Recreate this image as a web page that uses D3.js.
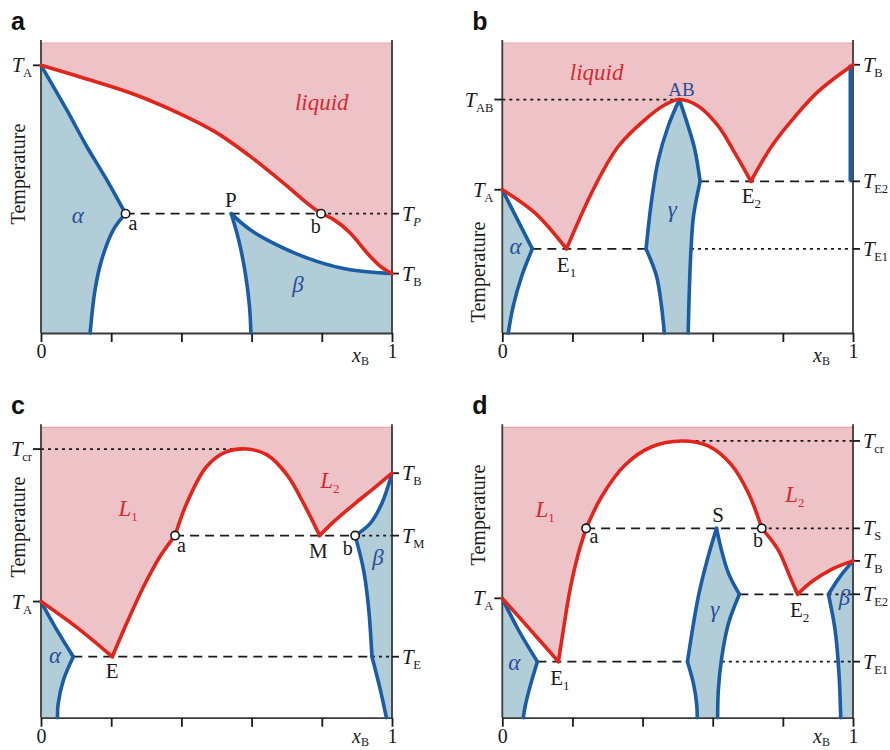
<!DOCTYPE html>
<html><head><meta charset="utf-8">
<script src="https://cdn.jsdelivr.net/npm/d3@7"></script>
<style>body{margin:0;background:#fff}svg{display:block}</style>
</head><body><script>
// ---------------- DATA (x = mole fraction of B, T = relative temperature 0..1) ----------------
const xTicks = [0, 0.2, 0.4, 0.6, 0.8, 1];
const panelLetters = ["a", "b", "c", "d"];

// Panel a : peritectic
const aLevelsLeft  = [["A", 0.923]];
const aLevelsRight = [["P", 0.4115], ["B", 0.205]];
const aLiqUpper  = [[0,0.923],[0.121,0.879],[0.263,0.824],[0.401,0.753],[0.501,0.69],[0.596,0.609],[0.691,0.517],[0.758,0.448],[0.798,0.4115]];
const aLiqLower  = [[0.798,0.4115],[0.834,0.391],[0.881,0.345],[0.929,0.276],[0.967,0.23],[1,0.205]];
const aAlphaUpper = [[0,0.923],[0.073,0.77],[0.13,0.644],[0.187,0.529],[0.241,0.4115]];
const aAlphaLower = [[0.241,0.4115],[0.206,0.356],[0.173,0.253],[0.154,0.149],[0.14,0]];
const aBetaLeft  = [[0.542,0.4115],[0.563,0.322],[0.582,0.207],[0.594,0.092],[0.598,0]];
const aBetaUpper = [[0.542,0.4115],[0.596,0.356],[0.691,0.293],[0.786,0.247],[0.881,0.218],[1,0.205]];

// Panel b : congruent compound AB with two eutectics
const bLevelsLeft  = [["AB", 0.805], ["A", 0.494]];
const bLevelsRight = [["B", 0.925], ["E2", 0.523], ["E1", 0.29]];
const bLiq1 = [[0,0.494],[0.093,0.414],[0.183,0.29]];
const bLiq2 = [[0.183,0.29],[0.264,0.506],[0.331,0.644],[0.407,0.736],[0.464,0.787],[0.505,0.805],[0.559,0.782],[0.616,0.713],[0.663,0.621],[0.709,0.523]];
const bLiq3 = [[0.709,0.523],[0.768,0.644],[0.835,0.747],[0.901,0.833],[1,0.925]];
const bAlphaUpper = [[0,0.494],[0.0856,0.29]];
const bAlphaLower = [[0.0856,0.29],[0.055,0.195],[0.031,0.092],[0.017,0]];
const bGammaLeftUpper  = [[0.505,0.805],[0.473,0.713],[0.445,0.598],[0.426,0.46],[0.41,0.29]];
const bGammaLeftLower  = [[0.41,0.29],[0.44,0.195],[0.454,0.092],[0.462,0]];
const bGammaRightUpper = [[0.505,0.805],[0.53,0.713],[0.549,0.632],[0.564,0.523]];
const bGammaRightLower = [[0.564,0.523],[0.545,0.402],[0.538,0.287],[0.533,0.138],[0.53,0]];
const bPureB = [[1,0.925],[1,0.523]];

// Panel c : monotectic + eutectic
const cLevelsLeft  = [["cr", 0.925], ["A", 0.40]];
const cLevelsRight = [["B", 0.842], ["M", 0.627], ["E", 0.21]];
const cLiq1 = [[0,0.40],[0.102,0.311],[0.203,0.21]];
const cLiq2 = [[0.203,0.21],[0.244,0.325],[0.292,0.451],[0.339,0.555],[0.382,0.627]];
const cLiq3 = [[0.382,0.627],[0.415,0.738],[0.472,0.865],[0.529,0.916],[0.587,0.925],[0.644,0.905],[0.701,0.836],[0.748,0.738],[0.794,0.627]];
const cLiq4 = [[0.794,0.627],[0.834,0.675],[0.895,0.738],[0.948,0.79],[1,0.842]];
const cAlphaUpper = [[0,0.40],[0.04,0.313],[0.092,0.21]];
const cAlphaLower = [[0.092,0.21],[0.064,0.13],[0.049,0.049],[0.047,0]];
const cBetaUpper  = [[0.895,0.627],[0.938,0.669],[0.971,0.738],[1,0.842]];
const cBetaLow1   = [[0.895,0.627],[0.919,0.509],[0.933,0.382],[0.943,0.21]];
const cBetaLow2   = [[0.943,0.21],[0.967,0.095],[0.984,0]];

// Panel d : syntectic
const dLevelsLeft  = [["A", 0.411]];
const dLevelsRight = [["cr", 0.953], ["S", 0.652], ["B", 0.54], ["E2", 0.425], ["E1", 0.193]];
const dLiq1 = [[0,0.411],[0.074,0.311],[0.16,0.193]];
const dLiq2 = [[0.16,0.193],[0.174,0.302],[0.193,0.44],[0.217,0.566],[0.239,0.652]];
const dLiq3 = [[0.239,0.652],[0.283,0.761],[0.35,0.87],[0.426,0.933],[0.511,0.953],[0.587,0.936],[0.654,0.87],[0.702,0.773],[0.74,0.652]];
const dLiq4 = [[0.74,0.652],[0.787,0.577],[0.82,0.486],[0.842,0.425]];
const dLiq5 = [[0.842,0.425],[0.882,0.468],[0.939,0.511],[1,0.54]];
const dAlphaUpper = [[0,0.411],[0.046,0.302],[0.1,0.193]];
const dAlphaLower = [[0.1,0.193],[0.079,0.107],[0.065,0.038],[0.06,0]];
const dGammaLeftUpper  = [[0.611,0.652],[0.587,0.555],[0.559,0.417],[0.528,0.193]];
const dGammaLeftLower  = [[0.528,0.193],[0.545,0.118],[0.554,0.049],[0.556,0]];
const dGammaRightUpper = [[0.611,0.652],[0.625,0.577],[0.645,0.497],[0.676,0.425]];
const dGammaRightLower = [[0.676,0.425],[0.645,0.325],[0.626,0.21],[0.616,0.095],[0.614,0]];
const dBetaUpper = [[1,0.54],[0.963,0.486],[0.93,0.425]];
const dBetaLower = [[0.93,0.425],[0.949,0.302],[0.96,0.153],[0.965,0]];

// ---------------- STYLE ----------------
const SERIF = "'Liberation Serif', Tinos, 'Times New Roman', Times, 'DejaVu Serif', serif";
const SANS = "'Liberation Sans', Arimo, Arial, Helvetica, sans-serif";
const RED = "#E1251B", BLUE = "#1A5CA6", PINK = "#EEC3C8", PINKEDGE = "#E9A3AB", LBLUE = "#B1CDD8", INK = "#1a1a1a", AXIS = "#3a3a3a", TXTBLUE = "#2A4D9C", TXTRED = "#D8282F";

const svg = d3.select("body").append("svg").attr("width", 890).attr("height", 750)
  .attr("font-family", SERIF);

function makePanel(x0, x1, yTop, yBot) {
  const x = d3.scaleLinear().domain([0, 1]).range([x0, x1]);
  const y = d3.scaleLinear().domain([0, 1]).range([yBot, yTop]);
  const line = d3.line().x(d => x(d[0])).y(d => y(d[1])).curve(d3.curveCatmullRom.alpha(0.5));
  const g = svg.append("g");
  const layers = {
    fill: g.append("g"), guide: g.append("g"), axis: g.append("g"),
    curve: g.append("g"), mark: g.append("g"), text: g.append("g")
  };
  return { x, y, line, g, layers, x0, x1, yTop, yBot };
}
const rev = a => a.slice().reverse();

function area(P, parts, color) {
  let d = "";
  parts.forEach((p, i) => {
    let s = p.length >= 3 ? P.line(p) : "M" + p.map(q => P.x(q[0]) + "," + P.y(q[1])).join("L");
    if (i > 0) s = "L" + s.slice(1);
    d += s;
  });
  P.layers.fill.append("path").attr("d", d + "Z").attr("fill", color).attr("stroke", "none");
}
function curve(P, pts, color) {
  P.layers.curve.append("path").attr("d", P.line(pts)).attr("fill", "none")
    .attr("stroke", color).attr("stroke-width", 3.6).attr("stroke-linecap", "round").attr("stroke-linejoin", "round");
}
function hline(P, xa, xb, T, style) {
  P.layers.guide.append("line").attr("x1", P.x(xa)).attr("x2", P.x(xb)).attr("y1", P.y(T)).attr("y2", P.y(T))
    .attr("stroke", INK).attr("stroke-width", 1.8).attr("stroke-dasharray", style === "dash" ? "9,6" : "3,4");
}
function tLabel(P, side, sub, T, subItalic) {
  const yy = P.y(T);
  const xt = side === "left" ? P.x0 : P.x1;
  P.layers.axis.append("line").attr("x1", side === "left" ? xt - 8 : xt).attr("x2", side === "left" ? xt : xt + 7)
    .attr("y1", yy).attr("y2", yy).attr("stroke", INK).attr("stroke-width", 1.8);
  const t = P.layers.text.append("text").attr("x", side === "left" ? xt - 9 : xt + 10).attr("y", yy + 7)
    .attr("font-family", SERIF)
    .attr("text-anchor", side === "left" ? "end" : "start").attr("font-size", 21).attr("fill", INK);
  t.append("tspan").attr("font-style", "italic").text("T");
  t.append("tspan").attr("font-size", 12.5).attr("dx", -0.5).attr("dy", 5).attr("font-style", subItalic ? "italic" : "normal").text(sub);
}
function label(P, str, xd, Td, opt) {
  opt = opt || {};
  const t = P.layers.text.append("text").attr("x", P.x(xd)).attr("y", P.y(Td)).attr("text-anchor", "middle")
    .attr("font-family", SERIF)
    .attr("font-size", opt.size || 21).attr("fill", opt.color || INK).attr("font-style", opt.italic ? "italic" : "normal");
  t.append("tspan").text(str);
  if (opt.sub) t.append("tspan").attr("font-size", 13).attr("dy", 5).attr("font-style", "normal").text(opt.sub);
}
function dot(P, xd, Td) {
  P.layers.mark.append("circle").attr("cx", P.x(xd)).attr("cy", P.y(Td)).attr("r", 4.2)
    .attr("fill", "#fff").attr("stroke", INK).attr("stroke-width", 1.6);
}
function frame(P, letter, tempX, tempY) {
  P.layers.axis.append("line").attr("x1", P.x(0)).attr("x2", P.x(1)).attr("y1", P.y(1)).attr("y2", P.y(1))
    .attr("stroke", PINKEDGE).attr("stroke-width", 1.2);
  const ax = d3.axisBottom(P.x).tickValues(xTicks).tickSize(9).tickSizeOuter(0).tickPadding(2)
    .tickFormat(d => (d === 0 || d === 1) ? d3.format("d")(d) : "");
  const ga = P.layers.axis.append("g").attr("transform", `translate(0,${P.yBot})`).call(ax);
  ga.attr("font-family", SERIF);
  ga.select(".domain").attr("stroke", AXIS).attr("stroke-width", 1.8);
  ga.selectAll(".tick line").attr("stroke", INK).attr("stroke-width", 1.8);
  ga.selectAll(".tick text").attr("font-family", SERIF).attr("font-size", 20).attr("fill", INK);
  [0, 1].forEach(v => P.layers.axis.append("line").attr("x1", P.x(v)).attr("x2", P.x(v))
    .attr("y1", P.yTop - 3).attr("y2", P.yBot).attr("stroke", AXIS).attr("stroke-width", 1.8));
  const xb = P.layers.text.append("text").attr("x", P.x1 - 40).attr("y", Math.min(P.yBot + 29, 743))
    .attr("font-family", SERIF).attr("font-size", 20).attr("fill", INK);
  xb.append("tspan").attr("font-style", "italic").text("x");
  xb.append("tspan").attr("font-size", 12).attr("dy", 3).text("B");
  P.layers.text.append("text").attr("transform", `translate(${tempX},${tempY}) rotate(-90)`)
    .attr("font-family", SERIF)
    .attr("text-anchor", "middle").attr("font-size", 20).attr("fill", INK).text("Temperature");
  P.layers.text.append("text").attr("x", P.x0 - 30).attr("y", P.yTop - 13).attr("font-family", SANS)
    .attr("font-weight", "bold").attr("font-size", 25).attr("fill", "#111").text(letter);
}

// ---------------- PANEL a ----------------
{
  const P = makePanel(41, 392, 43, 333);
  const TA = aLevelsLeft[0][1], TP = aLevelsRight[0][1];
  area(P, [aLiqUpper, aLiqLower, [[1, 1], [0, 1]]], PINK);
  area(P, [[[0, 0], [0, TA]], aAlphaUpper, aAlphaLower], LBLUE);
  area(P, [aBetaUpper, [[1, 0]], rev(aBetaLeft)], LBLUE);
  hline(P, 0.241, 0.798, TP, "dash");
  hline(P, 0.798, 1, TP, "dot");
  [aAlphaUpper, aAlphaLower, aBetaLeft, aBetaUpper].forEach(c => curve(P, c, BLUE));
  [aLiqUpper, aLiqLower].forEach(c => curve(P, c, RED));
  dot(P, 0.241, TP); dot(P, 0.798, TP);
  frame(P, panelLetters[0], 25, 174);
  aLevelsLeft.forEach(l => tLabel(P, "left", l[0], l[1]));
  aLevelsRight.forEach(l => tLabel(P, "right", l[0], l[1], l[0] === "P"));
  label(P, "α", 0.105, 0.379, { color: TXTBLUE, italic: true, size: 23 });
  label(P, "β", 0.732, 0.141, { color: TXTBLUE, italic: true, size: 23 });
  label(P, "liquid", 0.80, 0.769, { color: TXTRED, italic: true, size: 23 });
  label(P, "P", 0.541, 0.434, { size: 21 });
  label(P, "a", 0.262, 0.355, { size: 20 });
  label(P, "b", 0.783, 0.345, { size: 20 });
}

// ---------------- PANEL b ----------------
{
  const P = makePanel(502.3, 853, 43, 333);
  const TAB = bLevelsLeft[0][1], TA = bLevelsLeft[1][1], TE2 = bLevelsRight[1][1], TE1 = bLevelsRight[2][1];
  area(P, [bLiq1, bLiq2, bLiq3, [[1, 1], [0, 1]]], PINK);
  area(P, [[[0, 0], [0, TA]], bAlphaUpper, bAlphaLower], LBLUE);
  area(P, [rev(bGammaLeftLower), rev(bGammaLeftUpper), bGammaRightUpper, bGammaRightLower], LBLUE);
  hline(P, 0, 0.505, TAB, "dot");
  hline(P, 0.564, 1, TE2, "dash");
  hline(P, 0.0856, 0.41, TE1, "dash");
  hline(P, 0.538, 1, TE1, "dot");
  [bAlphaUpper, bAlphaLower, bGammaLeftUpper, bGammaLeftLower, bGammaRightUpper, bGammaRightLower].forEach(c => curve(P, c, BLUE));
  P.layers.curve.append("line").attr("x1", P.x(bPureB[0][0]) - 2.5).attr("x2", P.x(bPureB[1][0]) - 2.5)
    .attr("y1", P.y(bPureB[0][1])).attr("y2", P.y(bPureB[1][1])).attr("stroke", BLUE).attr("stroke-width", 4);
  [bLiq1, bLiq2, bLiq3].forEach(c => curve(P, c, RED));
  frame(P, panelLetters[1], 485, 272);
  bLevelsLeft.forEach(l => tLabel(P, "left", l[0], l[1]));
  bLevelsRight.forEach(l => tLabel(P, "right", l[0], l[1]));
  label(P, "liquid", 0.269, 0.872, { color: TXTRED, italic: true, size: 23 });
  label(P, "AB", 0.511, 0.817, { color: TXTBLUE, size: 19 });
  label(P, "γ", 0.485, 0.401, { color: TXTBLUE, italic: true, size: 23 });
  label(P, "α", 0.038, 0.272, { color: TXTBLUE, italic: true, size: 23 });
  label(P, "E", 0.183, 0.21, { sub: "1" });
  label(P, "E", 0.71, 0.448, { sub: "2" });
}

// ---------------- PANEL c ----------------
{
  const P = makePanel(41, 392, 427.3, 717.7);
  const Tcr = cLevelsLeft[0][1], TA = cLevelsLeft[1][1], TM = cLevelsRight[1][1], TE = cLevelsRight[2][1];
  area(P, [cLiq1, cLiq2, cLiq3, cLiq4, [[1, 1], [0, 1]]], PINK);
  area(P, [[[0, 0], [0, TA]], cAlphaUpper, cAlphaLower], LBLUE);
  area(P, [cBetaUpper, [[1, 0]], rev(cBetaLow2), rev(cBetaLow1)], LBLUE);
  hline(P, 0, 0.587, Tcr, "dot");
  hline(P, 0.382, 0.895, TM, "dash");
  hline(P, 0.895, 1, TM, "dot");
  hline(P, 0.092, 0.943, TE, "dash");
  hline(P, 0.943, 1, TE, "dot");
  [cAlphaUpper, cAlphaLower, cBetaUpper, cBetaLow1, cBetaLow2].forEach(c => curve(P, c, BLUE));
  [cLiq1, cLiq2, cLiq3, cLiq4].forEach(c => curve(P, c, RED));
  dot(P, 0.382, TM); dot(P, 0.895, TM);
  frame(P, panelLetters[2], 25, 527);
  cLevelsLeft.forEach(l => tLabel(P, "left", l[0], l[1]));
  cLevelsRight.forEach(l => tLabel(P, "right", l[0], l[1]));
  label(P, "L", 0.248, 0.693, { color: TXTRED, italic: true, size: 23, sub: "1" });
  label(P, "L", 0.823, 0.792, { color: TXTRED, italic: true, size: 23, sub: "2" });
  label(P, "α", 0.04, 0.189, { color: TXTBLUE, italic: true, size: 23 });
  label(P, "β", 0.96, 0.526, { color: TXTBLUE, italic: true, size: 23 });
  label(P, "E", 0.203, 0.137);
  label(P, "a", 0.40, 0.571, { size: 20 });
  label(P, "M", 0.79, 0.55);
  label(P, "b", 0.874, 0.56, { size: 20 });
}

// ---------------- PANEL d ----------------
{
  const P = makePanel(502.3, 853, 427.3, 717.7);
  const TA = dLevelsLeft[0][1], Tcr = dLevelsRight[0][1], TS = dLevelsRight[1][1], TE2 = dLevelsRight[3][1], TE1 = dLevelsRight[4][1];
  area(P, [dLiq1, dLiq2, dLiq3, dLiq4, dLiq5, [[1, 1], [0, 1]]], PINK);
  area(P, [[[0, 0], [0, TA]], dAlphaUpper, dAlphaLower], LBLUE);
  area(P, [rev(dGammaLeftLower), rev(dGammaLeftUpper), dGammaRightUpper, dGammaRightLower], LBLUE);
  area(P, [[[1, 0], [1, dBetaUpper[0][1]]], dBetaUpper, dBetaLower], LBLUE);
  hline(P, 0.511, 1, Tcr, "dot");
  hline(P, 0.239, 0.74, TS, "dash");
  hline(P, 0.74, 1, TS, "dot");
  hline(P, 0.676, 0.93, TE2, "dash");
  hline(P, 0.93, 1, TE2, "dot");
  hline(P, 0.1, 0.528, TE1, "dash");
  hline(P, 0.626, 1, TE1, "dot");
  [dAlphaUpper, dAlphaLower, dGammaLeftUpper, dGammaLeftLower, dGammaRightUpper, dGammaRightLower, dBetaUpper, dBetaLower].forEach(c => curve(P, c, BLUE));
  [dLiq1, dLiq2, dLiq3, dLiq4, dLiq5].forEach(c => curve(P, c, RED));
  dot(P, 0.239, TS); dot(P, 0.74, TS);
  frame(P, panelLetters[3], 485, 515);
  dLevelsLeft.forEach(l => tLabel(P, "left", l[0], l[1]));
  dLevelsRight.forEach(l => tLabel(P, "right", l[0], l[1]));
  label(P, "L", 0.122, 0.692, { color: TXTRED, italic: true, size: 23, sub: "1" });
  label(P, "L", 0.834, 0.744, { color: TXTRED, italic: true, size: 23, sub: "2" });
  label(P, "S", 0.615, 0.675);
  label(P, "a", 0.261, 0.60, { size: 20 });
  label(P, "b", 0.729, 0.589, { size: 20 });
  label(P, "γ", 0.606, 0.348, { color: TXTBLUE, italic: true, size: 23 });
  label(P, "β", 0.976, 0.388, { color: TXTBLUE, italic: true, size: 23 });
  label(P, "α", 0.034, 0.164, { color: TXTBLUE, italic: true, size: 23 });
  label(P, "E", 0.164, 0.113, { sub: "1" });
  label(P, "E", 0.848, 0.348, { sub: "2" });
}
</script></body></html>
